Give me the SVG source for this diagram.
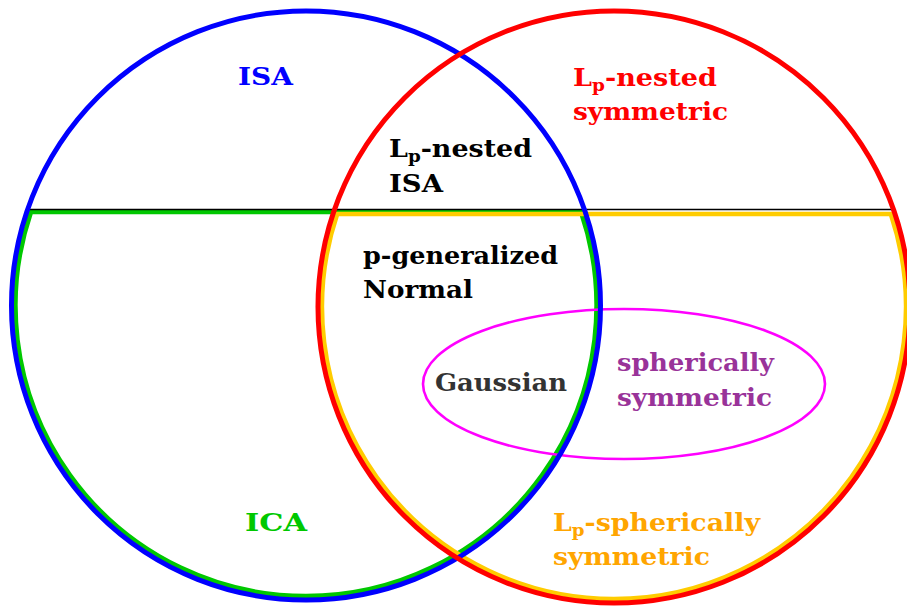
<svg xmlns="http://www.w3.org/2000/svg" width="907" height="609" viewBox="0 0 907 609">
<style>
.t{font-family:"DejaVu Serif","Liberation Serif",serif;font-weight:bold;font-size:25px}
.sub{font-size:17px}
.ring{fill:none}
</style>
<rect width="907" height="609" fill="#fff"/>
<g id="ica-region">
<path class="ring" d="M31 212 H581 A290.5 290.5 0 1 1 31 212 Z" stroke="#00c800" stroke-width="4.5" stroke-linejoin="miter"/>
</g>
<g id="lp-spherical-region">
<path class="ring" d="M337.2 214 H890.8 A292 292 0 1 1 337.2 214 Z" stroke="#ffcc00" stroke-width="4.5"/>
</g>
<g id="divider">
<line x1="30" y1="209.5" x2="892" y2="209.5" stroke="#000" stroke-width="1.4"/>
</g>
<g id="spherical-region">
<ellipse class="ring" cx="624" cy="384" rx="201" ry="75" stroke="#ff00ff" stroke-width="2.6"/>
</g>
<g id="isa-region">
<circle class="ring" cx="306" cy="305.5" r="294.5" stroke="#0000ff" stroke-width="5"/>
</g>
<g id="lp-nested-region">
<circle class="ring" cx="614" cy="307" r="296" stroke="#ff0000" stroke-width="5"/>
</g>
<g id="labels">
<text class="t" x="238" y="85" fill="#0000ff" textLength="55" lengthAdjust="spacingAndGlyphs">ISA</text>
<text class="t" x="573" y="86" fill="#ff0000" textLength="144" lengthAdjust="spacingAndGlyphs">L<tspan class="sub" dy="5">p</tspan><tspan dy="-5">-nested</tspan></text>
<text class="t" x="573" y="120" fill="#ff0000" textLength="155" lengthAdjust="spacingAndGlyphs">symmetric</text>
<text class="t" x="389" y="157" fill="#000" textLength="143" lengthAdjust="spacingAndGlyphs">L<tspan class="sub" dy="5">p</tspan><tspan dy="-5">-nested</tspan></text>
<text class="t" x="389" y="192" fill="#000" textLength="54" lengthAdjust="spacingAndGlyphs">ISA</text>
<text class="t" x="363" y="264" fill="#000" textLength="195" lengthAdjust="spacingAndGlyphs">p-generalized</text>
<text class="t" x="363" y="298" fill="#000" textLength="110" lengthAdjust="spacingAndGlyphs">Normal</text>
<text class="t" x="435" y="391" fill="#333333" textLength="132" lengthAdjust="spacingAndGlyphs">Gaussian</text>
<text class="t" x="617" y="371" fill="#993399" textLength="157" lengthAdjust="spacingAndGlyphs">spherically</text>
<text class="t" x="617" y="406" fill="#993399" textLength="155" lengthAdjust="spacingAndGlyphs">symmetric</text>
<text class="t" x="245" y="531" fill="#00c800" textLength="62" lengthAdjust="spacingAndGlyphs">ICA</text>
<text class="t" x="553" y="531" fill="#ffa500" textLength="207" lengthAdjust="spacingAndGlyphs">L<tspan class="sub" dy="5">p</tspan><tspan dy="-5">-spherically</tspan></text>
<text class="t" x="553" y="565" fill="#ffa500" textLength="157" lengthAdjust="spacingAndGlyphs">symmetric</text>
</g>
</svg>
